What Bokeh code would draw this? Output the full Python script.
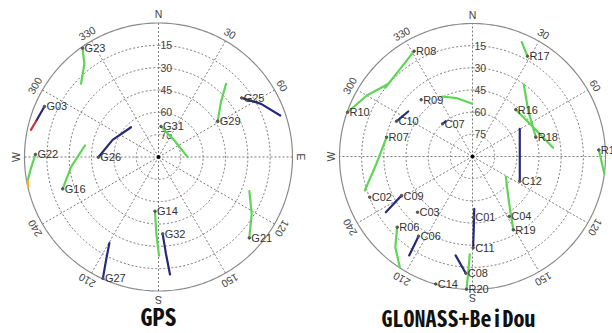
import numpy as np
from bokeh.plotting import figure
from bokeh.layouts import row
from bokeh.models import Range1d
from bokeh.core.properties import value
from bokeh.embed import file_html
from bokeh.resources import INLINE

# ---------------- data ----------------
ring_elev = [15, 30, 45, 60, 75]
spoke_az = list(range(0, 360, 30))
deg_labels = ["30", "60", "120", "150", "210", "240", "300", "330"]
deg_label_az = [30, 60, 120, 150, 210, 240, 300, 330]
dir_labels = ["N", "E", "S", "W"]
dir_label_az = [0, 90, 180, 270]

# GPS satellites: label position (az, el)
gps_names = ["G23", "G03", "G22", "G16", "G26", "G31", "G29", "G25", "G21", "G14", "G32", "G27"]
gps_mark_az = [325.1, 293.9, 271.2, 251.6, 269.8, 4.7, 58.8, 54.6, 131.7, 183.7, 176.9, 204.6]
gps_mark_el = [0.9, 6.2, 7.3, 22.2, 49.6, 69.4, 43.5, 21.5, 8.3, 53.5, 38.3, 0.3]
# GPS track segments
gps_track_color = ["green", "blue", "red", "green", "yellow", "green", "blue", "green",
                   "green", "blue", "green", "green", "blue", "blue"]
gps_track_az = [[325.1, 321.5, 313.4], [293.9, 286.3], [286.3, 282.0],
                [271.2, 264.0, 259.8], [259.8, 256.8], [251.6, 263.4, 278.9],
                [269.8, 290.5, 317.3], [4.7, 43.8, 90.3], [58.8, 48.7, 42.7],
                [54.6, 62.6, 71.2], [131.7, 121.4, 110.6], [183.7, 181.6, 179.7],
                [176.9, 175.6, 174.4], [204.6, 206.9, 209.7]]
gps_track_el = [[0.9, 10.0, 18.4], [6.2, 4.3], [4.3, 2.4],
                [7.3, 3.4, 0.8], [0.8, 0.0], [22.2, 30.8, 40.0],
                [49.6, 57.1, 62.8], [69.4, 74.6, 70.4], [43.5, 34.2, 23.1],
                [21.5, 12.4, 3.6], [8.3, 16.7, 24.8], [53.5, 38.4, 23.8],
                [38.3, 24.8, 10.7], [0.3, 12.1, 23.4]]

# GLONASS + BeiDou satellites
gb_names = ["R08", "R10", "R17", "R09", "R16", "R18", "C12", "C10", "C07", "R07", "C02", "C09",
            "C03", "C01", "C11", "C04", "R19", "R06", "C06", "C08", "R20", "C14", "R12"]
gb_mark_az = [331.0, 289.5, 28.7, 317.9, 42.7, 73.0, 117.6, 294.9, 317.5, 282.7, 248.4, 241.2,
              224.6, 179.3, 179.6, 148.5, 150.9, 226.8, 214.1, 183.3, 182.6, 196.1, 87.0]
gb_mark_el = [8.5, 0.3, 12.6, 38.2, 46.8, 45.2, 53.9, 33.3, 60.0, 30.4, 15.2, 35.2,
              37.0, 48.9, 28.2, 42.4, 33.2, 20.1, 24.9, 10.9, 0.1, 0.2, 4.4]
gb_track_color = ["green", "green", "green", "green", "green", "green", "blue", "blue", "blue",
                  "green", "blue", "blue", "green", "green", "blue", "blue", "green", "green"]
gb_track_az = [[331.0, 320.5, 308.2], [289.5, 300.0, 310.9], [28.7, 23.3],
               [333.2, 344.7, 359.7], [42.7, 66.0, 83.8], [73.0, 50.4, 35.5],
               [117.6, 88.8, 59.6], [294.9, 305.0], [317.5, 322.6],
               [282.7, 265.7, 252.5], [241.2, 237.3], [179.6, 179.0, 178.1],
               [150.9, 142.2, 121.0], [226.8, 220.4, 213.3], [214.1, 212.6],
               [183.3, 189.7], [182.6, 182.1, 181.6], [87.0, 97.5]]
gb_track_el = [[8.5, 13.1, 14.8], [0.3, 7.4, 14.8], [12.6, 5.7],
               [44.5, 49.0, 54.3], [46.8, 43.9, 35.1], [45.2, 41.1, 30.2],
               [53.9, 58.0, 52.9], [33.3, 36.9], [60.0, 60.0],
               [30.4, 24.8, 13.6], [35.2, 20.3], [28.2, 41.3, 54.6],
               [33.2, 49.5, 63.7], [20.1, 9.4, 0.4], [24.9, 10.5],
               [10.9, 22.1], [0.1, 11.6, 23.7], [4.4, 0.0]]

COLORS = {"green": "#5ed655", "blue": "#27297a", "red": "#d03040", "yellow": "#f0b030"}
LABEL_FONT = value("Liberation Sans")
TITLE_FONT = value("Noto Sans Mono CJK SC")


def polar_xy(az, el):
    z = 90.0 - np.asarray(el, dtype=float)
    a = np.radians(np.asarray(az, dtype=float))
    return z * np.sin(a), z * np.cos(a)


def sky_plot(box_x0, box_w, center, radius_px, names, m_az, m_el, t_col, t_az, t_el,
             title, title_dx, title_mid, title_size):
    box_y0, box_h = 0, 333
    s = radius_px / 90.0
    cx, cy = center
    xr = Range1d((box_x0 - cx) / s, (box_x0 + box_w - cx) / s)
    yr = Range1d(-(box_y0 + box_h - cy) / s, (cy - box_y0) / s)
    p = figure(width=box_w, height=box_h, x_range=xr, y_range=yr,
               output_backend="svg", toolbar_location=None, min_border=0)
    p.axis.visible = False
    p.grid.visible = False
    p.outline_line_color = None
    p.background_fill_color = "white"

    t = np.linspace(0, 2 * np.pi, 361)
    for el in ring_elev:
        z = 90 - el
        p.line(z * np.sin(t), z * np.cos(t), line_color="#7a7a7a", line_width=1,
               line_dash="2 2")
    p.line(90 * np.sin(t), 90 * np.cos(t), line_color="#8a8a8a", line_width=1.2)
    sx, sy = polar_xy(spoke_az, [0] * len(spoke_az))
    p.segment(x0=[0] * len(sx), y0=[0] * len(sx), x1=sx, y1=sy, line_color="#7a7a7a",
              line_width=1, line_dash="2 2")

    # elevation labels along the north spoke
    ex, ey = polar_xy([0] * len(ring_elev), ring_elev)
    p.text(x=ex, y=ey, text=[str(e) for e in ring_elev], x_offset=2, text_align="left",
           text_baseline="middle", text_font=LABEL_FONT, text_font_size="10.5px",
           text_color="#444444")

    # azimuth labels outside the circle
    r_lbl = 96.0
    a = np.radians(deg_label_az)
    p.text(x=r_lbl * np.sin(a), y=r_lbl * np.cos(a), text=deg_labels,
           angle=[-v for v in a], text_align="center", text_baseline="middle",
           text_font=LABEL_FONT, text_font_size="10.5px", text_color="#444444")
    # compass letters (only those whose position lies inside the panel)
    a = np.radians(dir_label_az)
    dx, dy = r_lbl * np.sin(a), r_lbl * np.cos(a)
    keep = [i for i in range(len(dir_labels))
            if xr.start + 3 < dx[i] < xr.end - 3]
    p.text(x=[dx[i] for i in keep], y=[dy[i] for i in keep],
           text=[dir_labels[i] for i in keep], angle=[-a[i] for i in keep],
           text_align="center", text_baseline="middle",
           text_font=LABEL_FONT, text_font_size="10.5px", text_color="#444444")

    p.scatter([0], [0], size=3, color="black")

    # tracks
    for col, az, el in zip(t_col, t_az, t_el):
        x, y = polar_xy(az, el)
        p.line(x, y, line_color=COLORS[col], line_width=2.2, line_cap="round")

    # marks and labels
    mx, my = polar_xy(m_az, m_el)
    p.scatter(mx, my, size=2.5, color="#555555")
    p.text(x=mx, y=my, text=names, x_offset=2, text_align="left", text_baseline="middle",
           text_font=LABEL_FONT, text_font_size="11px", text_color="#333333")

    # title
    p.text(x=[title_dx / s], y=[-(title_mid - cy) / s], text=[title], text_align="center",
           text_baseline="middle", text_font=TITLE_FONT, text_font_size=title_size,
           text_font_style="bold", text_color="#111111")
    return p


p1 = sky_plot(0, 306, (158, 156.5), 134, gps_names, gps_mark_az, gps_mark_el,
              gps_track_color, gps_track_az, gps_track_el, "GPS", 0, 315, "24px")
p2 = sky_plot(306, 306, (472, 156), 133, gb_names, gb_mark_az, gb_mark_el,
              gb_track_color, gb_track_az, gb_track_el, "GLONASS+BeiDou", -14, 316.5, "22px")

layout = row(p1, p2, spacing=0)
open("out.html", "w").write(file_html(layout, INLINE))
